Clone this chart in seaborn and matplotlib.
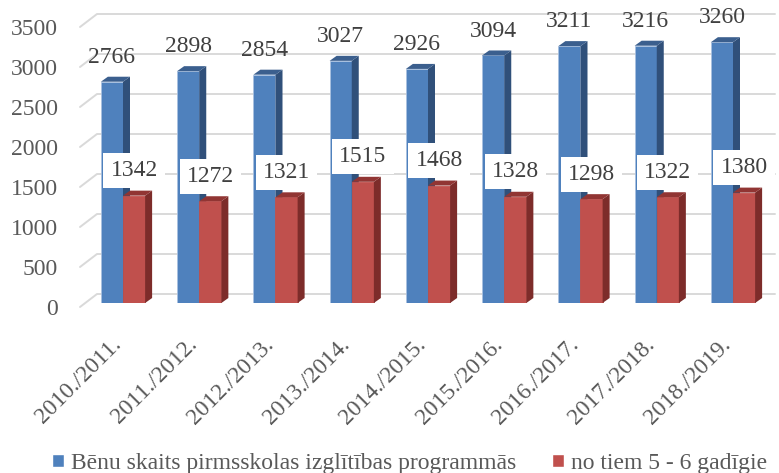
import pandas as pd
import matplotlib.pyplot as plt
import seaborn as sns
from matplotlib.patches import Polygon, Patch
from matplotlib.transforms import ScaledTranslation

years = ["2010./2011.", "2011./2012.", "2012./2013.", "2013./2014.", "2014./2015.",
         "2015./2016.", "2016./2017.", "2017./2018.", "2018./2019."]
total = [2766, 2898, 2854, 3027, 2926, 3094, 3211, 3216, 3260]
age_5_6 = [1342, 1272, 1321, 1515, 1468, 1328, 1298, 1322, 1380]
series_names = ["Bēnu skaits pirmsskolas izglītības programmās", "no tiem 5 - 6 gadīgie"]
y_ticks = [0, 500, 1000, 1500, 2000, 2500, 3000, 3500]

df = pd.DataFrame({
    "year": years * 2,
    "value": total + age_5_6,
    "series": [series_names[0]] * len(years) + [series_names[1]] * len(years),
})

blue, red = "#4f81bd", "#c0504d"
blue_side, blue_top = "#30507a", "#3b5f8e"
red_side, red_top = "#7d2c2a", "#913533"
txt = "#595959"

sns.set_style("white")
plt.rcParams["font.family"] = ["Liberation Serif", "DejaVu Serif"]

W, H = 779, 473
fig = plt.figure(figsize=(W / 100, H / 100), dpi=100)
ax = fig.add_axes([80 / W, 1 - 303 / H, (775 - 80) / W, (303 - 23) / H])

sns.barplot(data=df, x="year", y="value", hue="series", palette=[blue, red],
            width=0.58, saturation=1, legend=False, ax=ax, zorder=2)

xmin, xmax = (80 - 123) / 76.25, (775 - 123) / 76.25
ax.set_xlim(xmin, xmax)
ax.set_ylim(0, 3500)
kx = (xmax - xmin) / (775 - 80)
ky = 3500 / (303 - 23)

# back wall gridlines with the little perspective stubs on the left
for v in y_ticks:
    front = v - 4 * ky
    back = v + 9 * ky
    ax.plot([xmin, xmin + 17 * kx, xmax], [front, back, back], color="#d9d9d9",
            lw=1.4, zorder=0, clip_on=False)

# fake 3d: side and top faces for every bar
dx, dy = 7 * kx, 5 * ky
n = len(years)
for i, p in enumerate(ax.patches[:2 * n]):
    is_blue = i < n
    x0, w, h = p.get_x(), p.get_width(), p.get_height()
    z = 2 if is_blue else 3
    p.set_zorder(z)
    p.set_edgecolor("#a9c1e0" if is_blue else red)
    p.set_linewidth(0.6)
    side = Polygon([(x0 + w, 0), (x0 + w + dx, dy), (x0 + w + dx, h + dy), (x0 + w, h)],
                   closed=True, facecolor=blue_side if is_blue else red_side,
                   edgecolor="none", zorder=z)
    top = Polygon([(x0, h), (x0 + dx, h + dy), (x0 + w + dx, h + dy), (x0 + w, h)],
                  closed=True, facecolor=blue_top if is_blue else red_top,
                  edgecolor="none", zorder=z)
    ax.add_patch(side)
    ax.add_patch(top)
    if is_blue:
        ax.annotate(f"{int(h)}", (x0 + w / 2, h), xytext=(0, 17.5), textcoords="offset points",
                    ha="center", va="center", fontsize=17, color="#404040", zorder=6)
    else:
        ax.annotate(f"{int(h)}", (x0 + w / 2, h), xytext=(0, 18), textcoords="offset points",
                    ha="center", va="center", fontsize=17, color="#404040", zorder=6,
                    bbox=dict(boxstyle="square,pad=0.3", facecolor="white", edgecolor="none"))

for s in ax.spines.values():
    s.set_visible(False)
ax.set_xlabel("")
ax.set_ylabel("")
ax.tick_params(axis="y", length=0, pad=16)
ax.tick_params(axis="x", length=0, pad=22)
ax.set_yticks(y_ticks)
ax.set_yticklabels([str(v) for v in y_ticks], fontsize=17, color=txt)
ax.set_xticks(range(n))
ax.set_xticklabels(years, fontsize=17, color=txt, rotation=45, ha="right", va="center",
                   rotation_mode="anchor")
# nudge tick labels to sit like the front edge of the 3d frame
for lab in ax.get_yticklabels():
    lab.set_transform(lab.get_transform() + ScaledTranslation(0, -4 / 100, fig.dpi_scale_trans))
for lab in ax.get_xticklabels():
    lab.set_transform(lab.get_transform() + ScaledTranslation(-5 / 100, -8 / 100, fig.dpi_scale_trans))

handles = [Patch(facecolor=blue), Patch(facecolor=red)]
fig.legend(handles, series_names, loc="lower center", bbox_to_anchor=(0.526, -0.047), ncol=2,
           frameon=False, fontsize=17, labelcolor=txt, handlelength=0.5, handleheight=0.5,
           handletextpad=0.3, columnspacing=1.5)

fig.savefig("out.png", dpi=100)
